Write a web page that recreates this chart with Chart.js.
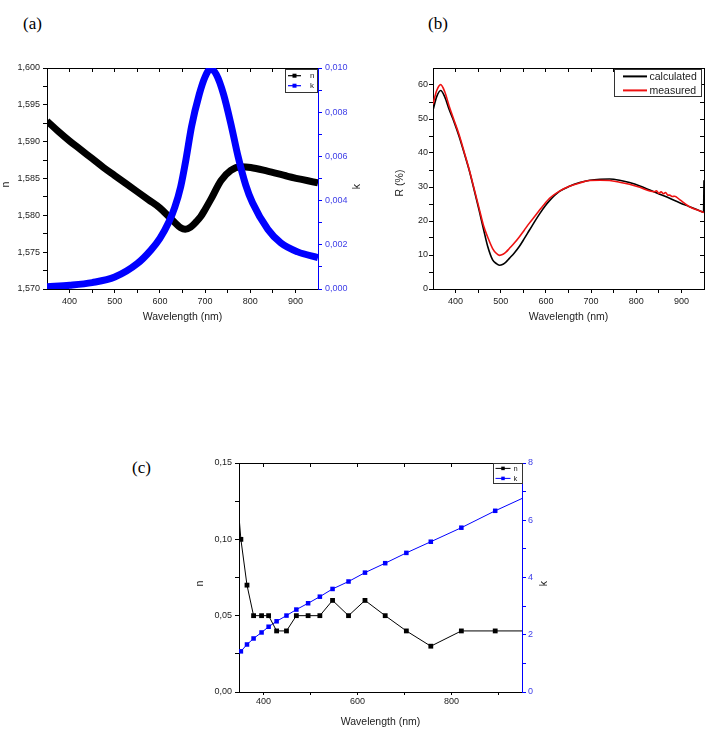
<!DOCTYPE html>
<html><head><meta charset="utf-8">
<script src="https://cdn.jsdelivr.net/npm/chart.js@4.4.0/dist/chart.umd.min.js"></script>
<style>
html,body{margin:0;padding:0;background:#fff;width:710px;height:740px;overflow:hidden;}
canvas{position:absolute;}
.lbl{position:absolute;font-family:"Liberation Serif","Times New Roman",serif;font-size:17px;color:#000;line-height:17px;}
</style></head><body>
<div class="lbl" style="left:23px;top:15px">(a)</div>
<div class="lbl" style="left:428px;top:15px">(b)</div>
<div class="lbl" style="left:132px;top:459px">(c)</div>
<canvas id="ca" width="365" height="295" style="left:0;top:40px"></canvas>
<canvas id="cb" width="345" height="295" style="left:365px;top:40px"></canvas>
<canvas id="cc" width="420" height="295" style="left:150px;top:440px"></canvas>
<script>
// ---------- Panel (a): n and k of the film ----------
const aWlN = [350,375,400,425,450,475,500,525,550,575,600,620,635,646,656,668,680,690,700,713,735,757,779,801,838,883,950];
const aN   = [1.5928,1.5914,1.5901,1.5889,1.5877,1.5865,1.5854,1.5843,1.5832,1.5821,1.5810,1.5798,1.5789,1.5783,1.5781,1.5784,1.5791,1.5798,1.5808,1.5822,1.5847,1.5861,1.5866,1.5865,1.5860,1.5853,1.5844];
const aWlK = [350,400,450,500,550,580,600,620,633,646,658,670,687,700,712,725,741,759,773,790,805,839,868,905,950];
const aK   = [0.00010,0.00017,0.00029,0.00054,0.00115,0.00176,0.00229,0.00304,0.0037,0.00463,0.0059,0.00735,0.0088,0.0096,0.00995,0.0097,0.0088,0.0073,0.0060,0.0047,0.0039,0.0027,0.00208,0.00168,0.00142];
const aXTicks = [400,450,500,550,600,650,700,750,800,850,900];
const aXLabels = [400,500,600,700,800,900];
const aNTicks = [1.570,1.5725,1.575,1.5775,1.580,1.5825,1.585,1.5875,1.590,1.5925,1.595,1.5975,1.600];
const aNLabels = [1.570,1.575,1.580,1.585,1.590,1.595,1.600];
const aKTicks = [0,0.001,0.002,0.003,0.004,0.005,0.006,0.007,0.008,0.009,0.010];
const aKLabels = [0,0.002,0.004,0.006,0.008,0.010];

// ---------- Panel (b): reflectance ----------
const bWlCalc = [350,358,367,376,386,397,408,419,430,441,452,462,471,482,490,497,505,512,519,530,541,552,563,575,586,597,608,630,652,675,697,720,741,763,785,808,830,852,874,896,918,940,949,950];
const bCalc   = [52.6,56.5,58.4,56.5,52.7,49.0,44.8,40.0,35.0,29.2,23.2,17.5,12.6,8.6,7.5,7.0,7.3,8.0,9.0,10.6,12.5,14.8,17.2,19.8,22.1,24.2,26.0,28.7,30.2,31.3,32.0,32.3,32.35,32.0,31.3,30.3,29.1,27.9,26.7,25.4,24.2,23.0,22.6,32.0];
const bWlMeas = [350,358,367,376,386,397,408,419,430,441,452,462,471,482,490,497,505,512,519,530,541,552,563,575,586,597,608,630,652,675,697,720,741,763,785,808,830,840,845,850,855,860,865,870,874,880,885,896,918,940,950];
const bMeas   = [54.3,58.3,60.1,58.0,53.7,49.5,45.3,40.3,35.2,29.5,23.8,18.6,15.3,11.9,10.5,9.9,10.2,10.9,11.9,13.5,15.3,17.3,19.3,21.3,23.2,25.0,26.7,28.8,30.2,31.2,31.9,32.0,31.9,31.4,30.8,29.9,28.8,28.6,28.9,28.1,28.6,28.0,28.4,27.6,27.6,27.2,27.3,26.3,24.2,23.0,22.5];
const bXTicks = [400,450,500,550,600,650,700,750,800,850,900];
const bXLabels = [400,500,600,700,800,900];
const bYTicks = [0,5,10,15,20,25,30,35,40,45,50,55,60];
const bYLabels = [0,10,20,30,40,50,60];

// ---------- Panel (c): n and k of the metal ----------
const cWl = [348,352,365,379,396,411,428,449,470,495,520,547,581,616,659,704,756,821,893,950];
const cN  = [0.115,0.10,0.07,0.05,0.05,0.05,0.04,0.04,0.05,0.05,0.05,0.06,0.05,0.06,0.05,0.04,0.03,0.04,0.04,0.04];
const cK  = [1.39,1.42,1.66,1.87,2.08,2.28,2.47,2.67,2.88,3.10,3.33,3.60,3.86,4.17,4.50,4.86,5.25,5.74,6.33,6.76];
const cMarker = [0,1,1,1,1,1,1,1,1,1,1,1,1,1,1,1,1,1,1,0];
const cXTicks = [400,500,600,700,800,900];
const cXLabels = [400,600,800];
const cNTicks = [0,0.025,0.05,0.075,0.10,0.125,0.15];
const cNLabels = [0,0.05,0.10,0.15];
const cKTicks = [0,1,2,3,4,5,6,7,8];
const cKLabels = [0,2,4,6,8];

Chart.defaults.font.family = '"Liberation Sans", Arial, sans-serif';
Chart.defaults.animation = false;

const comma = d => v => v.toFixed(d).replace('.', ',');
const plain = v => String(v);
const pts = (xs, ys) => xs.map((x, i) => ({x: x, y: ys[i]}));

function mkAxis(o) {
  const vertical = (o.pos === 'left' || o.pos === 'right');
  const ac = o.ac || '#000';
  return {
    type: 'linear', position: o.pos, min: o.min, max: o.max,
    afterFit: s => { if (vertical) s.width = o.size; else s.height = o.size; },
    afterBuildTicks: s => { s.ticks = o.ticks.map(v => ({value: v})); },
    ticks: {
      display: !!o.labels, autoSkip: false, maxRotation: 0, minRotation: 0,
      padding: (o.pad !== undefined ? o.pad : 3), color: o.lc || '#222', font: {size: o.fs || 9},
      callback: v => (o.labels && o.labels.includes(v)) ? o.fmt(v) : ''
    },
    grid: {display: true, drawOnChartArea: false, drawTicks: true, tickLength: (o.tl !== undefined ? o.tl : 4),
           color: ac, tickColor: ac, lineWidth: 1},
    border: {display: true, color: ac, width: 1},
    title: o.title ? {display: true, text: o.title, color: '#222', font: {size: 10.5}, padding: o.tpad} : {display: false}
  };
}

const insideLegend = {
  id: 'insideLegend',
  afterDraw(chart, args, o) {
    const ctx = chart.ctx, ca = chart.chartArea;
    const x0 = Math.round(ca.right - o.right - o.w), y0 = Math.round(ca.top + o.top);
    ctx.save();
    ctx.fillStyle = '#fff';
    ctx.fillRect(x0, y0, o.w, o.h);
    ctx.strokeStyle = '#333'; ctx.lineWidth = 1;
    ctx.strokeRect(x0 + 0.5, y0 + 0.5, o.w, o.h);
    o.items.forEach((idx, i) => {
      const ds = chart.data.datasets[idx];
      const yy = y0 + o.row0 + i * o.rowH;
      ctx.strokeStyle = ds.borderColor; ctx.lineWidth = o.lw;
      ctx.beginPath(); ctx.moveTo(x0 + o.lx0, yy); ctx.lineTo(x0 + o.lx1, yy); ctx.stroke();
      if (o.ms) {
        ctx.fillStyle = ds.borderColor;
        ctx.fillRect(x0 + (o.lx0 + o.lx1) / 2 - o.ms / 2, yy - o.ms / 2, o.ms, o.ms);
      }
      ctx.fillStyle = '#222'; ctx.font = o.font; ctx.textBaseline = 'middle'; ctx.textAlign = 'left';
      ctx.fillText(ds.label, x0 + o.tx, yy + 0.5);
    });
    ctx.restore();
  }
};

// vertical axis titles, both reading bottom-to-top as in the original
const vTitles = {
  id: 'vTitles',
  afterDraw(chart, args, o) {
    const ctx = chart.ctx, ca = chart.chartArea;
    o.items.forEach(it => {
      ctx.save();
      ctx.translate(it.x, (ca.top + ca.bottom) / 2 + it.dy);
      ctx.rotate(-Math.PI / 2);
      ctx.font = '10.5px "Liberation Sans", Arial, sans-serif';
      ctx.fillStyle = '#222'; ctx.textAlign = 'center'; ctx.textBaseline = 'middle';
      ctx.fillText(it.text, 0, 0);
      ctx.restore();
    });
  }
};

const lineOpts = {pointRadius: 0, cubicInterpolationMode: 'monotone', borderJoinStyle: 'round', borderCapStyle: 'butt'};

// ----- Chart (a) -----
new Chart(document.getElementById('ca'), {
  type: 'line',
  data: {datasets: [
    Object.assign({label: 'n', data: pts(aWlN, aN), xAxisID: 'x', yAxisID: 'y', borderColor: '#000000', borderWidth: 7, order: 1}, lineOpts),
    Object.assign({label: 'k', data: pts(aWlK, aK), xAxisID: 'x', yAxisID: 'y2', borderColor: '#0000ff', borderWidth: 7, order: 0}, lineOpts)
  ]},
  options: {
    responsive: false, layout: {padding: 0},
    plugins: {legend: {display: false}, tooltip: {enabled: false},
      insideLegend: {right: 1, top: 1, w: 32, h: 23, row0: 6.7, rowH: 10, lx0: 3, lx1: 16, tx: 25, lw: 1.2, ms: 4,
                     font: '8px "Liberation Sans", Arial, sans-serif', items: [0, 1]},
      vTitles: {items: [{text: 'n', x: 6, dy: 6}, {text: 'k', x: 357.5, dy: 8}]}},
    scales: {
      x: mkAxis({pos: 'bottom', min: 350, max: 950, size: 46, ticks: aXTicks, labels: aXLabels, fmt: plain,
                 title: 'Wavelength (nm)', tpad: {top: 0, bottom: 12}}),
      x2: mkAxis({pos: 'top', min: 350, max: 950, size: 28, ticks: aXTicks, tl: -4}),
      y: mkAxis({pos: 'left', min: 1.570, max: 1.600, size: 47, ticks: aNTicks, labels: aNLabels, fmt: comma(3)}),
      y2: mkAxis({pos: 'right', min: 0, max: 0.010, size: 47, ticks: aKTicks, labels: aKLabels, fmt: comma(3),
                  ac: '#0000ff', lc: '#4040e8'})
    }
  },
  plugins: [insideLegend, vTitles]
});

// ----- Chart (b) -----
new Chart(document.getElementById('cb'), {
  type: 'line',
  data: {datasets: [
    Object.assign({label: 'calculated', data: pts(bWlCalc, bCalc), xAxisID: 'x', yAxisID: 'y', borderColor: '#000000', borderWidth: 1.6, order: 1}, lineOpts),
    Object.assign({label: 'measured', data: pts(bWlMeas, bMeas), xAxisID: 'x', yAxisID: 'y', borderColor: '#ee1111', borderWidth: 1.6, order: 0}, lineOpts)
  ]},
  options: {
    responsive: false, layout: {padding: 0},
    plugins: {legend: {display: false}, tooltip: {enabled: false},
      insideLegend: {right: 3, top: 1, w: 87, h: 27, row0: 7.4, rowH: 14, lx0: 9, lx1: 33, tx: 35.5, lw: 2, ms: 0,
                     font: '10.5px "Liberation Sans", Arial, sans-serif', items: [0, 1]},
      vTitles: {items: [{text: 'R (%)', x: 35, dy: 4.5}]}},
    scales: {
      x: mkAxis({pos: 'bottom', min: 350, max: 950, size: 46, ticks: bXTicks, labels: bXLabels, fmt: plain,
                 title: 'Wavelength (nm)', tpad: {top: 0, bottom: 12}}),
      x2: mkAxis({pos: 'top', min: 350, max: 950, size: 28, ticks: bXTicks, tl: -4}),
      y: mkAxis({pos: 'left', min: 0, max: 65, size: 68, ticks: bYTicks, labels: bYLabels, fmt: plain, pad: 1}),
      y2: mkAxis({pos: 'right', min: 0, max: 65, size: 6, ticks: bYTicks, tl: -4})
    }
  },
  plugins: [insideLegend, vTitles]
});

// ----- Chart (c) -----
new Chart(document.getElementById('cc'), {
  type: 'line',
  data: {datasets: [
    {label: 'n', data: pts(cWl, cN), xAxisID: 'x', yAxisID: 'y', borderColor: '#000000', backgroundColor: '#000000',
     borderWidth: 1, pointStyle: 'rect', pointRadius: cMarker.map(m => m * 3.4), pointBorderWidth: 0, tension: 0, order: 0},
    {label: 'k', data: pts(cWl, cK), xAxisID: 'x', yAxisID: 'y2', borderColor: '#0000ff', backgroundColor: '#0000ff',
     borderWidth: 1, pointStyle: 'rect', pointRadius: cMarker.map(m => m * 3.2), pointBorderWidth: 0, tension: 0, order: 1}
  ]},
  options: {
    responsive: false, layout: {padding: 0},
    plugins: {legend: {display: false}, tooltip: {enabled: false},
      insideLegend: {right: 0, top: 0, w: 29, h: 20, row0: 5.4, rowH: 10, lx0: 2.5, lx1: 17.5, tx: 20.5, lw: 1, ms: 3.5,
                     font: '7.5px "Liberation Sans", Arial, sans-serif', items: [0, 1]},
      vTitles: {items: [{text: 'n', x: 50, dy: 6}, {text: 'k', x: 394.5, dy: 6}]}},
    scales: {
      x: mkAxis({pos: 'bottom', min: 348, max: 950, size: 43, ticks: cXTicks, labels: cXLabels, fmt: plain, tl: 3, pad: 1,
                 title: 'Wavelength (nm)', tpad: {top: 0, bottom: 7}}),
      x2: mkAxis({pos: 'top', min: 348, max: 950, size: 23, ticks: cXTicks, tl: -4}),
      y: mkAxis({pos: 'left', min: 0, max: 0.15, size: 89, ticks: cNTicks, labels: cNLabels, fmt: comma(2)}),
      y2: mkAxis({pos: 'right', min: 0, max: 8, size: 48, ticks: cKTicks, labels: cKLabels, fmt: plain, pad: 2,
                  ac: '#0000ff', lc: '#4040e8'})
    }
  },
  plugins: [insideLegend, vTitles]
});
</script>
</body></html>
